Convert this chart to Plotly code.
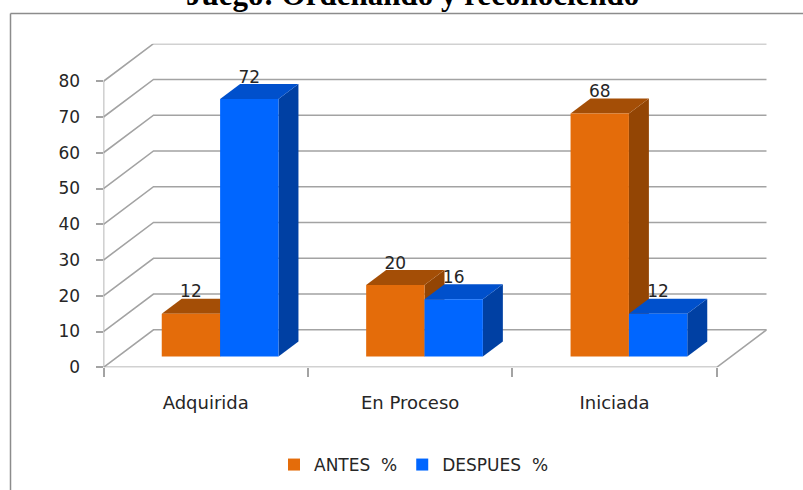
import plotly.graph_objects as go

categorias = ["Adquirida", "En Proceso", "Iniciada"]
antes = [12, 20, 68]
despues = [72, 16, 12]
y_ticks = [0, 10, 20, 30, 40, 50, 60, 70, 80]
titulo = "Juego: Ordenando y reconociendo"

W, H = 803, 490
BOTTOM = 10                         # margin that keeps the legend from resizing the plot area
PLOT_H = H - BOTTOM

def px(v):
    return v / W

def py(v):
    return 1 - v / PLOT_H

WALL_DX, WALL_DY = 0.2446, 10.5     # back wall offset (category units, value units)
BAR_DX, BAR_DY = 0.0978, 4.2        # bar depth
FLOOR = 3.0                         # bars stand this far above the front edge
BAR_W = 0.2855
GAP = 0.285
N = len(categorias)
x_range = [0, N + WALL_DX]
y_range = [0, 80 + WALL_DY]
GRID = "#A3A3A3"
TEXT = "#262626"
FONT = "DejaVu Sans"
FS = 17

series = [
    ("ANTES\u00a0\u00a0%", antes, "#E46C0A", "#A44E06", "#934504", 0),
    ("DESPUES\u00a0\u00a0%", despues, "#0066FF", "#0050CC", "#0040A3", 1),
]

fig = go.Figure()

def line(xs, ys, width=1.6):
    fig.add_trace(go.Scatter(x=xs, y=ys, mode="lines", showlegend=False, hoverinfo="skip",
                             line=dict(color=GRID, width=width)))

for v in y_ticks:
    line([0, WALL_DX, N + WALL_DX], [v, v + WALL_DY, v + WALL_DY])
line([0, 0], [0, 80])
line([0, N, N + WALL_DX], [0, 0, WALL_DY])

def poly(xs, ys, color):
    fig.add_trace(go.Scatter(x=xs, y=ys, mode="lines", fill="toself", fillcolor=color,
                             line=dict(width=0), showlegend=False, hoverinfo="skip"))

for i in range(N):
    for name, vals, front, top, side, k in series:
        x0 = i + GAP + k * BAR_W
        x1 = x0 + BAR_W
        t = vals[i] + FLOOR
        poly([x1, x1 + BAR_DX, x1 + BAR_DX, x1], [FLOOR, FLOOR + BAR_DY, t + BAR_DY, t], side)
        poly([x0, x1, x1 + BAR_DX, x0 + BAR_DX], [t, t, t + BAR_DY, t + BAR_DY], top)

for name, vals, front, top, side, k in series:
    fig.add_trace(go.Bar(
        x=[i + GAP + k * BAR_W + BAR_W / 2 for i in range(N)], y=vals, base=FLOOR,
        width=BAR_W, name=name, marker=dict(color=front, line=dict(width=0)),
        xaxis="x2", yaxis="y2", hoverinfo="skip"))

for name, vals, front, top, side, k in series:
    fig.add_trace(go.Scatter(
        x=[i + GAP + k * BAR_W + BAR_W / 2 for i in range(N)],
        y=[v + FLOOR + BAR_DY - 0.8 for v in vals],
        text=[str(v) for v in vals], mode="text", textposition="top center",
        textfont=dict(family=FONT, size=FS, color=TEXT),
        xaxis="x2", yaxis="y2", showlegend=False, hoverinfo="skip", cliponaxis=False))

dom_x = [px(103.5), px(766.7)]
dom_y = [py(367.3), py(43.7)]

fig.update_layout(
    width=W, height=H, autosize=False,
    margin=dict(l=0, r=0, t=0, b=BOTTOM),
    paper_bgcolor="white", plot_bgcolor="rgba(0,0,0,0)",
    barmode="overlay",
    xaxis=dict(domain=dom_x, range=x_range, showgrid=False, zeroline=False, showline=False,
               tickmode="array", tickvals=[i + 0.5 for i in range(N)], ticktext=categorias,
               ticks="", ticklabelstandoff=23,
               tickfont=dict(family=FONT, size=FS + 1, color=TEXT),
               minor=dict(tickmode="array", tickvals=list(range(N + 1)), ticks="outside",
                          ticklen=9, tickwidth=1.5, tickcolor=GRID)),
    yaxis=dict(domain=dom_y, range=y_range, showgrid=False, zeroline=False, showline=False,
               tickmode="array", tickvals=y_ticks, ticks="outside", ticklen=7, tickwidth=1.5,
               tickcolor=GRID, ticklabelstandoff=12,
               tickfont=dict(family=FONT, size=FS, color=TEXT)),
    xaxis2=dict(domain=dom_x, range=x_range, overlaying="x", visible=False),
    yaxis2=dict(domain=dom_y, range=y_range, overlaying="y", visible=False),
    legend=dict(orientation="h", x=px(274), xanchor="left", y=py(483), yanchor="bottom",
                font=dict(family=FONT, size=FS, color=TEXT), bgcolor="rgba(0,0,0,0)",
                traceorder="normal"),
    annotations=[dict(text="<b>" + titulo + "</b>", xref="paper", yref="paper",
                      x=px(412.5), y=py(14.5), xanchor="center", yanchor="bottom", showarrow=False,
                      font=dict(family="Liberation Serif", size=31, color="black"))],
    shapes=[
        dict(type="line", xref="paper", yref="paper", x0=px(10.5), x1=1, y0=py(13.5), y1=py(13.5),
             line=dict(color="#8C8C8C", width=1.5)),
        dict(type="line", xref="paper", yref="paper", x0=px(10.5), x1=px(10.5), y0=py(H), y1=py(13.5),
             line=dict(color="#8C8C8C", width=1.5)),
    ],
)

fig.write_html("out.html", config={"displayModeBar": False},
               post_script="document.body.style.margin='0';")
